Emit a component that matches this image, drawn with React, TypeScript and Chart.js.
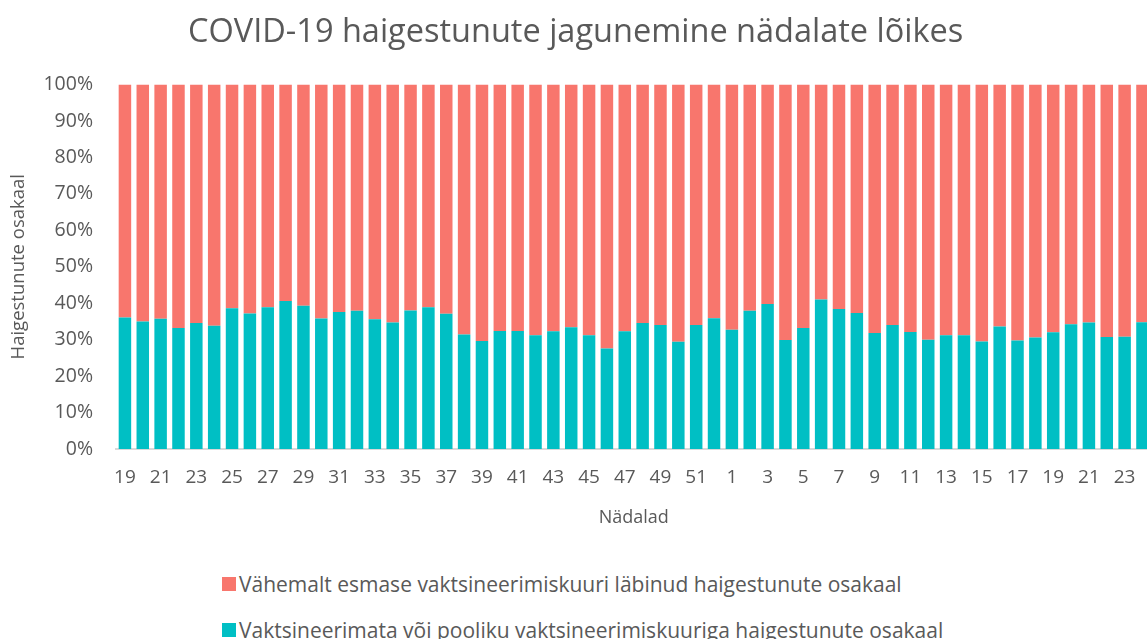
import { useEffect, useRef } from 'react';
import { Chart, registerables } from 'chart.js';

Chart.register(...registerables);

const TITLE = 'COVID-19 haigestunute jagunemine nädalate lõikes';
const X_TITLE = 'Nädalad';
const Y_TITLE = 'Haigestunute osakaal';
const SERIES_TOP = 'Vähemalt esmase vaktsineerimiskuuri läbinud haigestunute osakaal';
const SERIES_BOTTOM = 'Vaktsineerimata või pooliku vaktsineerimiskuuriga haigestunute osakaal';

const weeks = [
  '19', '20', '21', '22', '23', '24', '25', '26', '27', '28', '29', '30', '31', '32', '33', '34', '35',
  '36', '37', '38', '39', '40', '41', '42', '43', '44', '45', '46', '47', '48', '49', '50', '51', '52',
  '1', '2', '3', '4', '5', '6', '7', '8', '9', '10', '11', '12', '13', '14', '15', '16', '17', '18',
  '19', '20', '21', '22', '23', '24',
];

// Vaktsineerimata või pooliku kuuriga (%)
const unvaccinatedShare = [
  36.1, 35.0, 35.7, 33.2, 34.6, 33.8, 38.6, 37.2, 38.9, 40.6, 39.3, 35.8, 37.6, 37.9, 35.6, 34.7, 38.0,
  38.9, 37.1, 31.4, 29.6, 32.4, 32.4, 31.2, 32.3, 33.4, 31.2, 27.6, 32.3, 34.6, 34.0, 29.4, 34.0, 35.9,
  32.7, 37.9, 39.8, 29.9, 33.2, 41.0, 38.4, 37.3, 31.8, 34.0, 32.1, 30.0, 31.2, 31.2, 29.5, 33.6, 29.8,
  30.6, 32.0, 34.2, 34.7, 30.7, 30.8, 34.8,
];

// Vähemalt esmase kuuri läbinud (%)
const vaccinatedShare = [
  63.9, 65.0, 64.3, 66.8, 65.4, 66.2, 61.4, 62.8, 61.1, 59.4, 60.7, 64.2, 62.4, 62.1, 64.4, 65.3, 62.0,
  61.1, 62.9, 68.6, 70.4, 67.6, 67.6, 68.8, 67.7, 66.6, 68.8, 72.4, 67.7, 65.4, 66.0, 70.6, 66.0, 64.1,
  67.3, 62.1, 60.2, 70.1, 66.8, 59.0, 61.6, 62.7, 68.2, 66.0, 67.9, 70.0, 68.8, 68.8, 70.5, 66.4, 70.2,
  69.4, 68.0, 65.8, 65.3, 69.3, 69.2, 65.2,
];

const yTickValues = [0, 10, 20, 30, 40, 50, 60, 70, 80, 90, 100];

const COLOR_TOP = '#F8766D';
const COLOR_BOTTOM = '#00BFC4';
const TEXT = '#595959';
const FONT = "'Open Sans', 'Noto Sans', sans-serif";

export default function App() {
  const canvasRef = useRef<HTMLCanvasElement | null>(null);

  useEffect(() => {
    if (!canvasRef.current) return;
    const chart = new Chart(canvasRef.current, {
      type: 'bar',
      data: {
        labels: weeks,
        datasets: [
          {
            label: SERIES_BOTTOM,
            data: unvaccinatedShare,
            backgroundColor: COLOR_BOTTOM,
            barPercentage: 0.7,
            categoryPercentage: 1,
          },
          {
            label: SERIES_TOP,
            data: vaccinatedShare,
            backgroundColor: COLOR_TOP,
            barPercentage: 0.7,
            categoryPercentage: 1,
          },
        ],
      },
      options: {
        responsive: false,
        animation: false,
        devicePixelRatio: 1,
        layout: { padding: { left: 0, right: 8.6, top: 0, bottom: 0 } },
        plugins: {
          legend: { display: false },
          tooltip: { enabled: false },
          title: {
            display: true,
            text: TITLE,
            color: TEXT,
            font: { family: FONT, size: 32.5, weight: 'normal' },
            padding: { top: 13, bottom: 32.5 },
          },
        },
        scales: {
          x: {
            stacked: true,
            grid: { display: false, drawTicks: false },
            border: { display: true, color: '#d9d9d9', width: 2 },
            ticks: {
              autoSkip: false,
              maxRotation: 0,
              minRotation: 0,
              padding: 17,
              color: TEXT,
              font: { family: FONT, size: 19 },
              callback: (_v: any, i: number) => (i % 2 === 0 ? weeks[i] : ''),
            },
            title: {
              display: true,
              text: X_TITLE,
              color: TEXT,
              font: { family: FONT, size: 18 },
              padding: { top: 0, bottom: 11 },
            },
            afterFit: (s: any) => {
              s.height = 91;
            },
          },
          y: {
            stacked: true,
            min: 0,
            max: 100,
            grid: { display: false, drawTicks: false },
            border: { display: false },
            afterBuildTicks: (s: any) => {
              s.ticks = yTickValues.map((v) => ({ value: v }));
            },
            ticks: {
              padding: 23,
              color: TEXT,
              font: { family: FONT, size: 19.5 },
              callback: (v: any) => `${v}%`,
            },
            title: {
              display: true,
              text: Y_TITLE,
              color: TEXT,
              font: { family: FONT, size: 18.5 },
              padding: { top: 8, bottom: 0 },
            },
            afterFit: (s: any) => {
              s.width = 116;
            },
          },
        },
      },
    });
    return () => chart.destroy();
  }, []);

  const legendItems = [
    { label: SERIES_TOP, color: COLOR_TOP, top: 577 },
    { label: SERIES_BOTTOM, color: COLOR_BOTTOM, top: 623 },
  ];

  return (
    <div
      style={{
        position: 'fixed',
        left: 0,
        top: 0,
        width: 1147,
        height: 639,
        overflow: 'hidden',
        background: '#fff',
      }}
    >
      <canvas
        ref={canvasRef}
        width={1160}
        height={540}
        style={{ position: 'absolute', left: 0, top: 0, width: 1160, height: 540 }}
      />
      {legendItems.map((it) => (
        <div
          key={it.label}
          style={{
            position: 'absolute',
            left: 222,
            top: it.top,
            height: 14,
            display: 'flex',
            alignItems: 'center',
            whiteSpace: 'nowrap',
            fontFamily: FONT,
            fontSize: 21,
            color: TEXT,
          }}
        >
          <span style={{ display: 'inline-block', width: 14, height: 14, background: it.color, marginRight: 3, flex: 'none' }} />
          <span>{it.label}</span>
        </div>
      ))}
    </div>
  );
}
